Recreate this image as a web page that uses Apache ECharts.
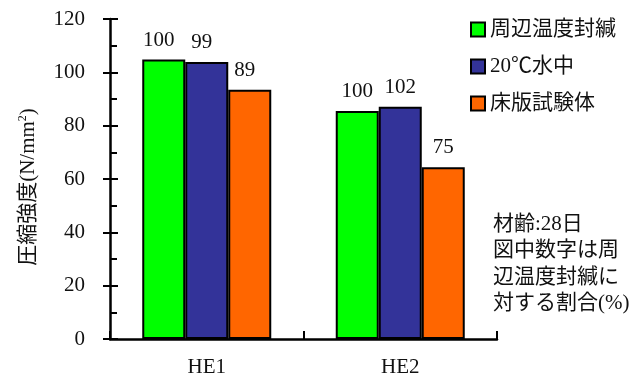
<!DOCTYPE html>
<html>
<head>
<meta charset="utf-8">
<script src="https://cdn.jsdelivr.net/npm/echarts@6/dist/echarts.min.js"></script>
<style>
  html, body { margin: 0; padding: 0; background: #fff; }
  #chart { width: 631px; height: 381px; }
</style>
</head>
<body>
<div id="chart"></div>
<script>
// Specimens (x-axis categories)
const categories = ['HE1', 'HE2'];
// Curing conditions (series names)
const seriesNames = ['周辺温度封緘', '20℃水中', '床版試験体'];
// Compressive strength, N/mm²
const strengthSealed = [104.8, 85.5];
const strengthWater = [103.9, 87.1];
const strengthSlab = [93.5, 64.4];
// Ratio to the sealed specimens (%), shown above each bar
const ratioSealed = [100, 100];
const ratioWater = [99, 102];
const ratioSlab = [89, 75];
// Y axis ticks
const yMin = 0, yMax = 120, yStep = 20;

const values = [strengthSealed, strengthWater, strengthSlab];
const ratios = [ratioSealed, ratioWater, ratioSlab];
const colors = ['#00ff00', '#333399', '#ff6600'];

const FONT = "'Liberation Serif', 'Noto Sans CJK JP', serif";
const GRID = { left: 110, right: 134, top: 19, bottom: 42 };
const gridWidth = 631 - GRID.left - GRID.right;

const chart = echarts.init(document.getElementById('chart'), null, { renderer: 'canvas' });

const series = values.map((vals, s) => ({
  name: seriesNames[s],
  type: 'bar',
  barWidth: 43,
  barGap: '0%',
  itemStyle: { color: colors[s], borderColor: '#000', borderWidth: 2 },
  label: {
    show: true,
    position: 'top',
    distance: 9,
    fontFamily: FONT,
    fontSize: 21,
    color: '#111',
    formatter: p => String(ratios[s][p.dataIndex])
  },
  data: vals.map((v, i) => i === 0 ? { value: v, label: { offset: [-5, 0] } } : v)
}));

chart.setOption({
  animation: false,
  backgroundColor: '#fff',
  textStyle: { fontFamily: FONT, color: '#111' },
  grid: GRID,
  legend: {
    orient: 'vertical',
    left: 465,
    top: 14,
    itemWidth: 14,
    itemHeight: 14,
    itemGap: 16,
    itemTextGap: 6,
    icon: 'rect',
    textStyle: { fontFamily: FONT, fontSize: 21, color: '#111' },
    data: seriesNames
  },
  title: {
    left: 488,
    top: 206,
    text: '材齢:28日\n図中数字は周\n辺温度封緘に\n対する割合(%)',
    textStyle: { fontFamily: FONT, fontSize: 21, fontWeight: 'normal', color: '#111', lineHeight: 26.5 }
  },
  xAxis: {
    type: 'category',
    data: categories,
    axisLine: { lineStyle: { color: '#000', width: 2.5 } },
    axisTick: { show: true, inside: true, length: 8, lineStyle: { color: '#000', width: 2 } },
    axisLabel: { fontFamily: FONT, fontSize: 21, color: '#111', margin: 18 },
    splitLine: { show: false }
  },
  yAxis: [
    {
      type: 'value',
      min: yMin, max: yMax, interval: yStep,
      name: '{a|圧縮強度(N/mm}{s|2}{a|)}',
      nameLocation: 'middle',
      nameGap: 71,
      nameRotate: 90,
      nameTextStyle: {
        padding: [0, 16, 0, 0],
        rich: {
          a: { fontFamily: FONT, fontSize: 21, color: '#111' },
          s: { fontFamily: FONT, fontSize: 12, color: '#111', verticalAlign: 'top', padding: [0, 0, 10, 0] }
        }
      },
      axisLine: { show: true, lineStyle: { color: '#000', width: 2.5 } },
      axisTick: { show: true, inside: true, length: 8, lineStyle: { color: '#000', width: 2 } },
      minorTick: { show: true, splitNumber: 2, length: 7, lineStyle: { color: '#000', width: 2 } },
      axisLabel: { fontFamily: FONT, fontSize: 21, color: '#111', margin: 25 },
      splitLine: { show: false }
    },
    {
      // outer half of the major ticks, drawn on the same vertical line
      type: 'value',
      position: 'right',
      offset: -gridWidth,
      min: yMin, max: yMax, interval: yStep,
      axisLine: { show: false },
      axisTick: { show: true, inside: true, length: 7, lineStyle: { color: '#000', width: 2 } },
      axisLabel: { show: false },
      splitLine: { show: false }
    }
  ],
  series
});
</script>
</body>
</html>
